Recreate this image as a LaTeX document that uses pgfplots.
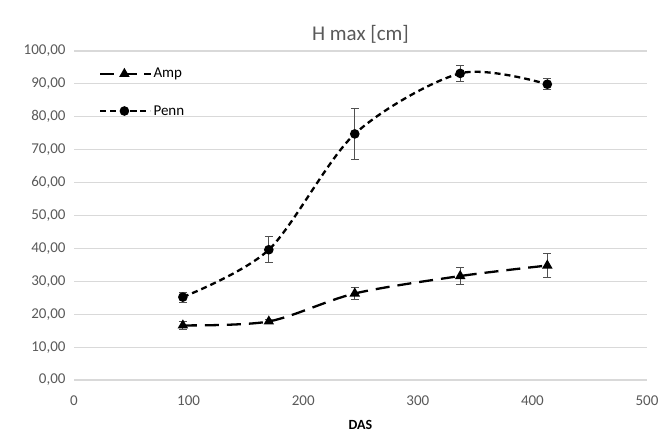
\documentclass[border=0pt]{standalone}
\usepackage{fontspec}
\setmainfont{Carlito}
\usepackage{pgfplots}
\pgfplotsset{compat=1.18}

\definecolor{txtgray}{RGB}{89,89,89}
\definecolor{gridgray}{RGB}{217,217,217}
\definecolor{errgray}{RGB}{80,80,80}

\begin{document}
\begin{tikzpicture}
\begin{axis}[
    scale only axis,
    width=573bp, height=329bp,
    xmin=0, xmax=500, ymin=0, ymax=100,
    xtick={0,100,...,500},
    ytick={0,10,...,100},
    ymajorgrids,
    grid style={gridgray, line width=1.2bp},
    axis line style={draw=none},
    tick style={draw=none},
    font=\fontsize{15bp}{18bp}\selectfont,
    ticklabel style={txtgray},
    yticklabel style={xshift=-5bp, /pgf/number format/.cd, fixed, fixed zerofill, precision=2, use comma, assume math mode=true},
    xticklabel style={yshift=-12bp, /pgf/number format/assume math mode=true},
    xlabel={\textbf{DAS}},
    xlabel style={font=\fontsize{14bp}{16bp}\selectfont\bfseries, black, yshift=-8bp},
    title={H max [cm]},
    title style={txtgray, font=\fontsize{21bp}{24bp}\selectfont, yshift=-2bp},
    legend style={draw=none, fill=none, at={(0.035,0.96)}, anchor=north west,
        font=\fontsize{15bp}{18bp}\selectfont, row sep=22bp},
    legend cell align=left,
    legend image code/.code={
        \draw[#1, mark repeat=2, mark phase=2, dash phase=-2bp] plot coordinates {(0bp,0bp) (26bp,0bp) (52bp,0bp)};
    },
    error bars/error bar style={errgray, solid, line width=1bp},
    error bars/error mark options={rotate=90, mark size=4bp, errgray, solid, line width=1bp},
]
\addplot[black, line width=2.3bp, smooth, dash pattern=on 14bp off 8bp,
    mark=triangle*, mark size=3.8bp, mark options={solid},
    error bars/.cd, y dir=both, y explicit]
coordinates {
    (95,16.6) +- (0,1.1)
    (170,17.8) +- (0,0.7)
    (245,26.3) +- (0,1.8)
    (337,31.6) +- (0,2.5)
    (413,34.8) +- (0,3.7)
};
\addlegendentry{Amp}

\addplot[black, line width=2.3bp, smooth, dash pattern=on 6bp off 4bp,
    mark=*, mark size=3.6bp, mark options={solid},
    error bars/.cd, y dir=both, y explicit]
coordinates {
    (95,25.2) +- (0,1.5)
    (170,39.6) +- (0,3.9)
    (245,74.8) +- (0,7.7)
    (337,93.2) +- (0,2.4)
    (413,89.9) +- (0,1.7)
};
\addlegendentry{Penn}
\end{axis}
\pgfresetboundingbox
\path[use as bounding box] ([xshift=-74bp,yshift=-60bp]current axis.south west) rectangle ([xshift=17bp,yshift=51bp]current axis.north east);
\end{tikzpicture}
\end{document}
